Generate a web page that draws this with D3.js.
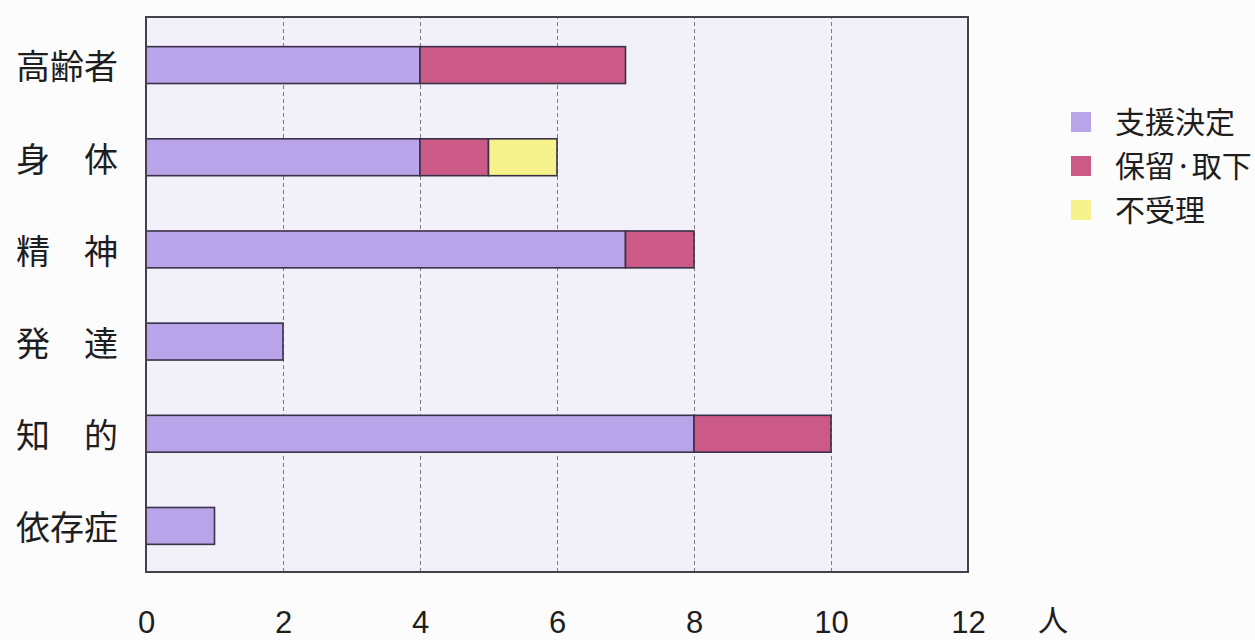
<!DOCTYPE html>
<html>
<head>
<meta charset="utf-8">
<script src="https://cdn.jsdelivr.net/npm/d3@7"></script>
<style>
  html, body { margin: 0; padding: 0; background: #fcfcfd; }
  svg { display: block; }
</style>
</head>
<body>
<svg id="chart" width="1255" height="640"></svg>
<script>
// Categories (top to bottom)
const categories = ["高齢者", "身　体", "精　神", "発　達", "知　的", "依存症"];
// Series values (persons)
const supportDecided = [4, 4, 7, 2, 8, 1];   // 支援決定
const heldWithdrawn  = [3, 1, 1, 0, 2, 0];   // 保留·取下
const notAccepted    = [0, 1, 0, 0, 0, 0];   // 不受理
const seriesNames = ["支援決定", "保留·取下", "不受理"];
const seriesColors = ["#b8a4e8", "#cc5a86", "#f6f38c"];
const tickValues = [0, 2, 4, 6, 8, 10, 12];
const unitLabel = "人";

const svg = d3.select("#chart");
const plot = { left: 146, right: 968, top: 17, bottom: 572 };

const rows = categories.map((c, i) => ({
  cat: c,
  [seriesNames[0]]: supportDecided[i],
  [seriesNames[1]]: heldWithdrawn[i],
  [seriesNames[2]]: notAccepted[i]
}));
const stacked = d3.stack().keys(seriesNames)(rows);

const x = d3.scaleLinear().domain([0, 12]).range([plot.left, plot.right]);
const y = d3.scaleBand().domain(categories).range([plot.top + 2, plot.bottom])
  .paddingInner(0.6).paddingOuter(0.3);
const color = d3.scaleOrdinal().domain(seriesNames).range(seriesColors);

// plot background
svg.append("rect")
  .attr("x", plot.left).attr("y", plot.top)
  .attr("width", plot.right - plot.left).attr("height", plot.bottom - plot.top)
  .attr("fill", "#f2f0f8");

// vertical dashed grid lines
svg.append("g")
  .attr("transform", `translate(0,${plot.bottom})`)
  .call(d3.axisBottom(x).tickValues(tickValues.slice(1, -1))
    .tickSize(-(plot.bottom - plot.top)).tickFormat(""))
  .call(g => g.select(".domain").remove())
  .call(g => g.selectAll("line")
    .attr("stroke", "#7e7a8c").attr("stroke-width", 1)
    .attr("stroke-dasharray", "4,3"));

// stacked bars
svg.append("g").selectAll("g")
  .data(stacked).join("g")
  .attr("fill", d => color(d.key))
  .selectAll("rect")
  .data(d => d.filter(s => s[1] - s[0] > 0))
  .join("rect")
  .attr("x", d => x(d[0]))
  .attr("y", d => y(d.data.cat))
  .attr("width", d => x(d[1]) - x(d[0]))
  .attr("height", y.bandwidth())
  .attr("stroke", "#3a3048")
  .attr("stroke-width", 1.6);

// plot frame
svg.append("rect")
  .attr("x", plot.left).attr("y", plot.top)
  .attr("width", plot.right - plot.left).attr("height", plot.bottom - plot.top)
  .attr("fill", "none").attr("stroke", "#45414c").attr("stroke-width", 2);

// x axis tick labels
const xAxis = svg.append("g")
  .attr("transform", `translate(0,${plot.bottom})`)
  .call(d3.axisBottom(x).tickValues(tickValues).tickSize(0).tickPadding(0));
xAxis.select(".domain").remove();
xAxis.selectAll("text")
  .attr("dy", null)
  .attr("y", 61)
  .attr("font-family", "'Liberation Sans', sans-serif")
  .attr("font-size", 31)
  .attr("fill", "#1e1e1e");

svg.append("text")
  .attr("x", 1053).attr("y", 631)
  .attr("text-anchor", "middle")
  .attr("font-family", "'Noto Sans CJK JP', sans-serif")
  .attr("font-size", 30)
  .attr("fill", "#1e1e1e")
  .text(unitLabel);

// category labels
const yAxis = svg.append("g")
  .attr("transform", `translate(${plot.left},0)`)
  .call(d3.axisLeft(y).tickSize(0).tickPadding(28));
yAxis.select(".domain").remove();
yAxis.selectAll("text")
  .attr("font-family", "'Noto Sans CJK JP', sans-serif")
  .attr("font-size", 34)
  .attr("fill", "#1e1e1e")
  .attr("dy", "0.42em");

// legend
const legend = svg.append("g").attr("transform", "translate(1071,112)");
const item = legend.selectAll("g").data(seriesNames).join("g")
  .attr("transform", (d, i) => `translate(0,${i * 44})`);
item.append("rect")
  .attr("width", 20).attr("height", 20)
  .attr("fill", d => color(d));
item.append("text")
  .attr("x", 44).attr("y", 10).attr("dy", "0.38em")
  .attr("font-family", "'Noto Sans CJK JP', sans-serif")
  .attr("font-size", 30)
  .attr("fill", "#1e1e1e")
  .text(d => d);
</script>
</body>
</html>
